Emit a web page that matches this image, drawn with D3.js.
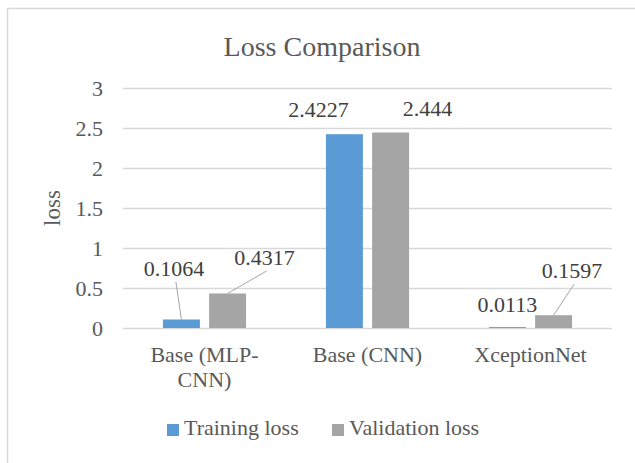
<!DOCTYPE html>
<html>
<head>
<meta charset="utf-8">
<script src="https://cdn.jsdelivr.net/npm/d3@7"></script>
<style>
  body { margin: 0; background: #fff; }
</style>
</head>
<body>
<div id="chart"></div>
<script>
// Chart data
var categories = ["Base (MLP-CNN)", "Base (CNN)", "XceptionNet"];
var categoryLines = [["Base (MLP-", "CNN)"], ["Base (CNN)"], ["XceptionNet"]];
var seriesNames = ["Training loss", "Validation loss"];
var trainingLoss = [0.1064, 2.4227, 0.0113];
var validationLoss = [0.4317, 2.444, 0.1597];
var yTicks = [0, 0.5, 1, 1.5, 2, 2.5, 3];

var colors = ["#5B9BD5", "#A5A5A5"];
var fontFamily = "'Liberation Serif', 'DejaVu Serif', serif";

// data label placement relative to the top centre of each bar [dx, dy]
var labelOffsets = [
  [[-7.5, -43.5], [-26, -17.5], [0, -15]],
  [[37, -28.5], [37, -16], [18.5, -37]]
];

// Layout
var width = 635, height = 463;
var plot = { left: 123, right: 612, top: 88, bottom: 328 };

var svg = d3.select("#chart")
  .append("svg")
  .attr("width", width)
  .attr("height", height)
  .attr("font-family", fontFamily);

svg.append("rect")
  .attr("width", width).attr("height", height)
  .attr("fill", "#fff");

// chart area border (cut off at right and bottom)
svg.append("rect")
  .attr("x", 7.5).attr("y", 8.5)
  .attr("width", 700).attr("height", 600)
  .attr("fill", "none")
  .attr("stroke", "#D9D9D9")
  .attr("stroke-width", 1.5);

// Scales
var x0 = d3.scaleBand()
  .domain(categories)
  .range([plot.left, plot.right])
  .padding(0);

var x1 = d3.scaleBand()
  .domain(seriesNames)
  .range([x0.bandwidth() * 0.245, x0.bandwidth() * 0.755])
  .paddingInner(0.2);

var y = d3.scaleLinear()
  .domain([0, 3])
  .range([plot.bottom, plot.top]);

// Gridlines
svg.append("g")
  .selectAll("line")
  .data(yTicks)
  .enter()
  .append("line")
  .attr("x1", plot.left)
  .attr("x2", plot.right)
  .attr("y1", d => y(d) + 0.5)
  .attr("y2", d => y(d) + 0.5)
  .attr("stroke", "#D9D9D9")
  .attr("stroke-width", 1.3);

// Y axis labels
svg.append("g")
  .selectAll("text")
  .data(yTicks)
  .enter()
  .append("text")
  .attr("x", 103)
  .attr("y", d => y(d))
  .attr("dy", "0.35em")
  .attr("text-anchor", "end")
  .attr("fill", "#595959")
  .style("font-size", "22px")
  .text(d => d);

// Bars
var seriesValues = [trainingLoss, validationLoss];
var barData = [];
seriesValues.forEach(function(vals, s) {
  vals.forEach(function(v, i) {
    barData.push({ s: s, i: i, value: v });
  });
});

function barX(d) { return x0(categories[d.i]) + x1(seriesNames[d.s]); }
function barCx(d) { return barX(d) + x1.bandwidth() / 2; }

svg.append("g")
  .selectAll("rect")
  .data(barData)
  .enter()
  .append("rect")
  .attr("x", barX)
  .attr("y", d => y(d.value))
  .attr("width", x1.bandwidth())
  .attr("height", d => y(0) - y(d.value))
  .attr("fill", d => colors[d.s]);

// Leader lines for labels moved away from their bars
svg.append("g")
  .selectAll("line")
  .data(barData.filter(d => labelOffsets[d.s][d.i][1] < -25))
  .enter()
  .append("line")
  .attr("x1", d => barCx(d) + labelOffsets[d.s][d.i][0] + 2)
  .attr("y1", d => y(d.value) + labelOffsets[d.s][d.i][1] + 6)
  .attr("x2", barCx)
  .attr("y2", d => y(d.value))
  .attr("stroke", "#A6A6A6")
  .attr("stroke-width", 1);

// Data labels
svg.append("g")
  .selectAll("text")
  .data(barData)
  .enter()
  .append("text")
  .attr("x", d => barCx(d) + labelOffsets[d.s][d.i][0])
  .attr("y", d => y(d.value) + labelOffsets[d.s][d.i][1])
  .attr("text-anchor", "middle")
  .attr("fill", "#404040")
  .style("font-size", "22px")
  .text(d => d.value);

// Category labels
var catText = svg.append("g")
  .selectAll("text")
  .data(categories)
  .enter()
  .append("text")
  .attr("x", d => x0(d) + x0.bandwidth() / 2)
  .attr("y", 362)
  .attr("text-anchor", "middle")
  .attr("fill", "#595959")
  .style("font-size", "22px");

catText.selectAll("tspan")
  .data((d, i) => categoryLines[i])
  .enter()
  .append("tspan")
  .attr("x", function() { return d3.select(this.parentNode).attr("x"); })
  .attr("dy", (d, j) => j === 0 ? 0 : 25)
  .text(d => d);

// Title
svg.append("text")
  .attr("x", 322)
  .attr("y", 56)
  .attr("text-anchor", "middle")
  .attr("fill", "#595959")
  .style("font-size", "28px")
  .text("Loss Comparison");

// Y axis title
svg.append("text")
  .attr("transform", "translate(60, 208) rotate(-90)")
  .attr("text-anchor", "middle")
  .attr("fill", "#595959")
  .style("font-size", "23px")
  .text("loss");

// Legend
var legendX = [167, 332];
var legend = svg.append("g")
  .selectAll("g")
  .data(seriesNames)
  .enter()
  .append("g")
  .attr("transform", (d, i) => `translate(${legendX[i]}, 424)`);

legend.append("rect")
  .attr("width", 12)
  .attr("height", 12)
  .attr("fill", (d, i) => colors[i]);

legend.append("text")
  .attr("x", 17)
  .attr("y", 11)
  .attr("fill", "#595959")
  .style("font-size", "22px")
  .text(d => d);
</script>
</body>
</html>
